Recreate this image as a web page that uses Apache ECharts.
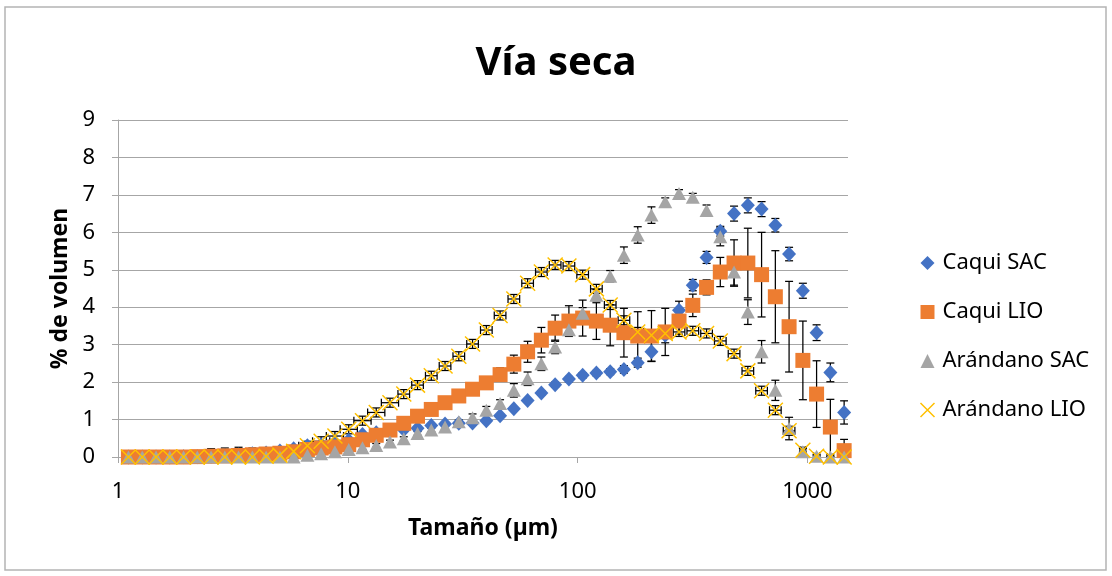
<!DOCTYPE html>
<html>
<head>
<meta charset="utf-8">
<script src="https://cdn.jsdelivr.net/npm/echarts@6/dist/echarts.min.js"></script>
<style>
html, body { margin: 0; padding: 0; background: #fff; }
#chart { width: 1112px; height: 576px; }
</style>
</head>
<body>
<div id="chart"></div>
<script>
// tamaños (µm), escala logarítmica
const sizes = [1.11, 1.275, 1.464, 1.68, 1.929, 2.213, 2.541, 2.916, 3.346, 3.842, 4.41, 5.062, 5.81, 6.668, 7.654, 8.786,
    10.09, 11.58, 13.29, 15.25, 17.51, 20.1, 23.07, 26.48, 30.39, 34.88, 40.04, 45.96, 52.75, 60.55, 69.5, 79.78, 91.58,
    105.1, 120.6, 138.5, 158.9, 182.5, 209.4, 240.4, 276, 316.8, 363.7, 417.3, 479, 549.9, 631.1, 724.4, 831.3, 954.4,
    1095, 1257, 1443];

const caquiSAC = [0, 0, 0, 0, 0.01, 0.01, 0.02, 0.04, 0.06, 0.09, 0.11, 0.16, 0.22, 0.3, 0.33, 0.38, 0.45, 0.6,
    0.65, 0.69, 0.73, 0.77, 0.84, 0.88, 0.9, 0.91, 0.97, 1.1, 1.29, 1.51, 1.71, 1.93, 2.08, 2.18, 2.24, 2.28,
    2.34, 2.52, 2.81, 3.25, 3.92, 4.59, 5.33, 6.03, 6.5, 6.72, 6.62, 6.19, 5.42, 4.44, 3.32, 2.26, 1.19];
const caquiSACErr = [0.02, 0.02, 0.02, 0.02, 0.02, 0.02, 0.2, 0.2, 0.2, 0.15, 0.1, 0.1, 0.05, 0.05, 0.05, 0.05, 0.05, 0.05,
    0.05, 0.05, 0.05, 0.05, 0.05, 0.05, 0.05, 0.05, 0.05, 0.05, 0.05, 0.05, 0.06, 0.07, 0.07, 0.07, 0.07, 0.08,
    0.1, 0.12, 0.25, 0.2, 0.24, 0.15, 0.16, 0.13, 0.2, 0.2, 0.2, 0.18, 0.18, 0.2, 0.21, 0.25, 0.31];

const caquiLIO = [0, 0, 0, 0, 0, 0.01, 0.02, 0.03, 0.04, 0.06, 0.08, 0.1, 0.14, 0.2, 0.24, 0.27, 0.33, 0.46,
    0.58, 0.72, 0.9, 1.09, 1.27, 1.45, 1.63, 1.81, 1.98, 2.2, 2.48, 2.81, 3.12, 3.44, 3.63, 3.71, 3.63, 3.52,
    3.32, 3.23, 3.23, 3.34, 3.63, 4.05, 4.53, 4.94, 5.18, 5.18, 4.87, 4.28, 3.48, 2.58, 1.68, 0.8, 0.17];
const caquiLIOErr = [0.02, 0.02, 0.02, 0.02, 0.02, 0.02, 0.02, 0.02, 0.02, 0.02, 0.02, 0.02, 0.03, 0.05, 0.05, 0.05, 0.05, 0.05,
    0.05, 0.05, 0.05, 0.08, 0.08, 0.08, 0.08, 0.1, 0.12, 0.18, 0.24, 0.28, 0.34, 0.35, 0.41, 0.48, 0.49, 0.55,
    0.65, 0.65, 0.68, 0.63, 0.35, 0.3, 0.2, 0.39, 0.62, 0.93, 1.13, 1.23, 1.21, 1.05, 0.89, 0.74, 0.3];

const arandanoSAC = [0, 0, 0, 0, 0, 0, 0, 0, 0, 0, 0, 0, 0, 0.05, 0.09, 0.14, 0.2, 0.25,
    0.31, 0.4, 0.49, 0.63, 0.72, 0.8, 0.94, 1.05, 1.25, 1.43, 1.78, 2.09, 2.49, 2.94, 3.4, 3.84, 4.32, 4.83,
    5.39, 5.93, 6.46, 6.82, 7.04, 6.94, 6.58, 5.88, 4.94, 3.87, 2.81, 1.78, 0.76, 0.14, 0.02, 0, 0];
const arandanoSACErr = [0.02, 0.02, 0.02, 0.02, 0.02, 0.02, 0.02, 0.02, 0.02, 0.02, 0.02, 0.02, 0.02, 0.05, 0.05, 0.05, 0.05, 0.05,
    0.05, 0.05, 0.05, 0.05, 0.05, 0.05, 0.05, 0.1, 0.1, 0.1, 0.18, 0.18, 0.18, 0.18, 0.15, 0.15, 0.15, 0.15,
    0.22, 0.22, 0.22, 0.1, 0.1, 0.1, 0.15, 0.24, 0.35, 0.33, 0.3, 0.27, 0.3, 0.12, 0.05, 0.02, 0.02];

const arandanoLIO = [0, 0, 0, 0, 0, 0, 0, 0, 0, 0, 0.02, 0.05, 0.15, 0.3, 0.42, 0.56, 0.74, 0.97,
    1.19, 1.45, 1.68, 1.92, 2.17, 2.43, 2.69, 3.02, 3.39, 3.78, 4.22, 4.64, 4.94, 5.13, 5.1, 4.87, 4.49, 4.06,
    3.65, 3.34, 3.25, 3.3, 3.34, 3.37, 3.3, 3.1, 2.76, 2.3, 1.77, 1.25, 0.7, 0.18, 0.02, 0, 0];
const arandanoLIOErr = [0.02, 0.02, 0.02, 0.02, 0.02, 0.02, 0.02, 0.02, 0.02, 0.02, 0.02, 0.02, 0.12, 0.12, 0.12, 0.12, 0.12, 0.12,
    0.12, 0.12, 0.12, 0.12, 0.12, 0.12, 0.12, 0.12, 0.12, 0.12, 0.12, 0.12, 0.12, 0.12, 0.12, 0.12, 0.12, 0.12,
    0.12, 0.12, 0.12, 0.12, 0.12, 0.12, 0.12, 0.12, 0.12, 0.12, 0.12, 0.12, 0.12, 0.05, 0.02, 0.02, 0.02];
// error horizontal relativo (fracción del tamaño)
const arandanoLIOXErr = [0.03, 0.03, 0.03, 0.03, 0.03, 0.03, 0.03, 0.03, 0.03, 0.03, 0.03, 0.03, 0.09, 0.09, 0.09, 0.09, 0.09, 0.09,
    0.09, 0.09, 0.06, 0.06, 0.06, 0.06, 0.06, 0.06, 0.06, 0.06, 0.06, 0.06, 0.06, 0.06, 0.06, 0.06, 0.06, 0.06,
    0.06, 0.06, 0.06, 0.06, 0.06, 0.06, 0.06, 0.06, 0.06, 0.06, 0.06, 0.06, 0.06, 0.03, 0.03, 0.03, 0.03];

const xTicks = [1, 10, 100, 1000];
const font = '"Noto Sans", "Open Sans", sans-serif';

const toPoints = (vals) => sizes.map((s, i) => [s, vals[i]]);
const toErr = (vals, err, xErr) => sizes.map((s, i) => [s, vals[i], err[i], xErr ? xErr[i] : 0]);

const barStyle = { stroke: '#000', lineWidth: 1.25, fill: null };
const renderErr = (params, api) => {
    const x = api.value(0);
    const y = api.value(1);
    const e = api.value(2);
    const xe = api.value(3);
    const cap = 4;
    const top = api.coord([x, y + e]);
    const bot = api.coord([x, y - e]);
    const children = [
        { type: 'line', shape: { x1: top[0], y1: top[1], x2: bot[0], y2: bot[1] }, style: barStyle },
        { type: 'line', shape: { x1: top[0] - cap, y1: top[1], x2: top[0] + cap, y2: top[1] }, style: barStyle },
        { type: 'line', shape: { x1: bot[0] - cap, y1: bot[1], x2: bot[0] + cap, y2: bot[1] }, style: barStyle },
    ];
    if (xe > 0) {
        const l = api.coord([x / (1 + xe), y]);
        const r = api.coord([x * (1 + xe), y]);
        children.push(
            { type: 'line', shape: { x1: l[0], y1: l[1], x2: r[0], y2: r[1] }, style: barStyle },
            { type: 'line', shape: { x1: l[0], y1: l[1] - cap, x2: l[0], y2: l[1] + cap }, style: barStyle },
            { type: 'line', shape: { x1: r[0], y1: r[1] - cap, x2: r[0], y2: r[1] + cap }, style: barStyle }
        );
    }
    return { type: 'group', children };
};
const errSeries = (name, data) => ({
    name,
    type: 'custom',
    renderItem: renderErr,
    data,
    encode: { x: 0, y: 1 },
    clip: true,
    silent: true,
});

const crossPath = 'path://M0,0L10,10M10,0L0,10';

const chart = echarts.init(document.getElementById('chart'));
chart.setOption({
    animation: false,
    backgroundColor: '#fff',
    textStyle: { fontFamily: font },
    title: {
        text: 'Vía seca',
        left: 'center',
        top: 39,
        textStyle: { fontFamily: font, fontSize: 40, fontWeight: 'bold', color: '#000' },
    },
    graphic: [{
        type: 'rect',
        shape: { x: 5, y: 7, width: 1101, height: 563 },
        style: { fill: null, stroke: '#b4b4b4', lineWidth: 1.5 },
        silent: true,
    }],
    legend: {
        orient: 'vertical',
        left: 918,
        top: 252,
        padding: 0,
        itemWidth: 14,
        itemHeight: 14,
        itemGap: 27,
        textStyle: { fontFamily: font, fontSize: 22, color: '#000', lineHeight: 22, padding: [0, 0, 0, 3] },
        data: [
            { name: 'Caqui SAC', icon: 'diamond' },
            { name: 'Caqui LIO', icon: 'rect' },
            { name: 'Arándano SAC', icon: 'triangle' },
            { name: 'Arándano LIO', icon: crossPath, itemStyle: { color: 'none', borderColor: '#FFC000', borderWidth: 1.5 } },
        ],
    },
    grid: { left: 118, right: 264, top: 120, bottom: 119 },
    xAxis: {
        type: 'log',
        logBase: 10,
        min: 1,
        max: 1500,
        name: 'Tamaño (µm)',
        nameLocation: 'middle',
        nameGap: 60,
        nameTextStyle: { fontFamily: font, fontSize: 23, fontWeight: 'bold', color: '#000' },
        axisLine: { lineStyle: { color: '#a6a6a6', width: 1 } },
        axisTick: { show: true, length: 6, customValues: xTicks, lineStyle: { color: '#a6a6a6' } },
        axisLabel: { customValues: xTicks, fontSize: 22, color: '#000', margin: 24, formatter: (v) => String(v) },
        splitLine: { show: false },
    },
    yAxis: {
        type: 'value',
        min: 0,
        max: 9,
        interval: 1,
        name: '% de volumen',
        nameLocation: 'middle',
        nameGap: 46,
        nameTextStyle: { fontFamily: font, fontSize: 23, fontWeight: 'bold', color: '#000' },
        axisLine: { show: true, lineStyle: { color: '#a6a6a6', width: 1 } },
        axisTick: { show: true, length: 6, lineStyle: { color: '#a6a6a6' } },
        axisLabel: { fontSize: 22, color: '#000', margin: 23 },
        splitLine: { lineStyle: { color: '#a6a6a6', width: 1 } },
    },
    series: [
        {
            name: 'Caqui SAC',
            type: 'scatter',
            symbol: 'diamond',
            symbolSize: [14, 15],
            itemStyle: { color: '#4472C4', opacity: 1 },
            data: toPoints(caquiSAC),
        },
        errSeries('errCaquiSAC', toErr(caquiSAC, caquiSACErr)),
        {
            name: 'Caqui LIO',
            type: 'scatter',
            symbol: 'rect',
            symbolSize: 15,
            itemStyle: { color: '#ED7D31', opacity: 1 },
            data: toPoints(caquiLIO),
        },
        errSeries('errCaquiLIO', toErr(caquiLIO, caquiLIOErr)),
        {
            name: 'Arándano SAC',
            type: 'scatter',
            symbol: 'triangle',
            symbolSize: [14, 13],
            itemStyle: { color: '#A5A5A5', opacity: 1 },
            data: toPoints(arandanoSAC),
        },
        errSeries('errArandanoSAC', toErr(arandanoSAC, arandanoSACErr)),
        {
            name: 'Arándano LIO',
            type: 'scatter',
            symbol: crossPath,
            symbolSize: 15,
            itemStyle: { color: 'none', borderColor: '#FFC000', borderWidth: 1.5, opacity: 1 },
            data: toPoints(arandanoLIO),
        },
        errSeries('errArandanoLIO', toErr(arandanoLIO, arandanoLIOErr, arandanoLIOXErr)),
    ],
});
</script>
</body>
</html>
